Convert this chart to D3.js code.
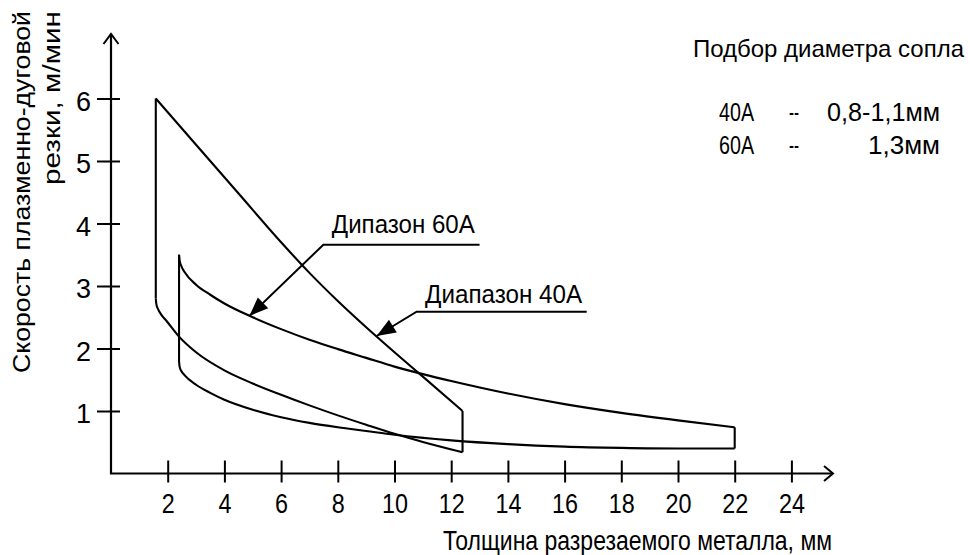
<!DOCTYPE html>
<html>
<head>
<meta charset="utf-8">
<script src="https://cdn.jsdelivr.net/npm/d3@7"></script>
<style>
  body { margin: 0; background: #fff; }
  text { font-family: "Liberation Sans", Arial, sans-serif; fill: #000; }
</style>
</head>
<body>
<div class="chart"></div>
<script>
// axis ticks
const xTicks = [2, 4, 6, 8, 10, 12, 14, 16, 18, 20, 22, 24];
const yTicks = [1, 2, 3, 4, 5, 6];

// range 60A: upper boundary and lower boundary (thickness mm, speed m/min)
const upper60X = [1.58, 3.0, 4.5, 6.0, 7.0, 8.0, 9.0, 10.0, 11.0, 12.4];
const upper60Y = [6.0, 5.26, 4.48, 3.7, 3.21, 2.76, 2.34, 1.94, 1.55, 1.0];
const lower60X = [1.58, 1.6, 1.66, 1.76, 1.96, 2.4, 3.0, 4.0, 5.0, 6.0, 7.0, 8.0, 9.0, 10.0, 11.0, 12.4];
const lower60Y = [2.8, 2.71, 2.63, 2.55, 2.44, 2.19, 1.94, 1.65, 1.44, 1.26, 1.09, 0.93, 0.78, 0.635, 0.505, 0.34];

// range 40A
const upper40X = [2.4, 2.42, 2.48, 2.6, 3.0, 3.5, 4.0, 5.0, 6.0, 7.0, 8.0, 9.0, 10.0, 11.0, 12.0, 14.0, 16.0, 18.0, 20.0, 22.0];
const upper40Y = [3.5, 3.41, 3.32, 3.22, 3.02, 2.86, 2.72, 2.5, 2.31, 2.14, 1.99, 1.85, 1.71, 1.59, 1.48, 1.28, 1.11, 0.97, 0.85, 0.74];
const lower40X = [2.4, 2.42, 2.48, 2.6, 3.0, 3.5, 4.0, 5.0, 6.0, 7.0, 8.0, 9.0, 10.0, 12.0, 14.0, 16.0, 18.0, 20.0, 22.0];
const lower40Y = [1.8, 1.71, 1.64, 1.57, 1.42, 1.29, 1.18, 1.02, 0.9, 0.81, 0.74, 0.68, 0.62, 0.53, 0.47, 0.43, 0.41, 0.4, 0.4];

// callouts: text, arrow tip, elbow, end of shelf
const calloutText = ["Дипазон 60А", "Диапазон 40А"];
const calloutTip = [[4.88, 2.52], [9.37, 2.2]];
const calloutElbow = [[7.49, 3.66], [10.78, 2.59]];
const calloutEndX = [13.0, 16.78];

// nozzle table
const tableTitle = "Подбор диаметра сопла";
const nozzleCurrent = ["40А", "60А"];
const nozzleDiameter = ["0,8-1,1мм", "1,3мм"];

const xTitle = "Толщина разрезаемого металла, мм";
const yTitle = ["Скорость плазменно-дуговой", "резки, м/мин"];

const width = 970, height = 555;

let svg = d3.select(".chart")
    .append("svg")
    .attr("width", width)
    .attr("height", height);

// scales
let x = d3.scaleLinear().domain([0, 24]).range([111, 791.4]);
let y = d3.scaleLinear().domain([0, 6]).range([473.5, 98.5]);

// x axis
let gx = svg.append("g")
    .attr("transform", "translate(0," + y(0) + ")")
    .call(d3.axisBottom(x).tickValues(xTicks).tickFormat(d3.format("d")).tickSize(0).tickPadding(0));
gx.select(".domain").remove();
gx.selectAll(".tick line").attr("y1", -13).attr("y2", 9)
    .attr("stroke", "#000").attr("stroke-width", 2);
gx.selectAll(".tick text")
    .attr("y", 39).attr("dy", null)
    .attr("font-size", 27)
    .attr("font-family", "Liberation Sans, Arial, sans-serif")
    .attr("textLength", d => String(d).length * 13)
    .attr("lengthAdjust", "spacingAndGlyphs");

// y axis
let gy = svg.append("g")
    .attr("transform", "translate(" + x(0) + ",0)")
    .call(d3.axisLeft(y).tickValues(yTicks).tickFormat(d3.format("d")).tickSize(0).tickPadding(0));
gy.select(".domain").remove();
gy.selectAll(".tick line").attr("x1", -14).attr("x2", 9)
    .attr("stroke", "#000").attr("stroke-width", 2);
gy.selectAll(".tick text")
    .attr("x", -20).attr("y", 2).attr("dy", "0.36em")
    .attr("font-size", 27)
    .attr("font-family", "Liberation Sans, Arial, sans-serif");

// axis lines with open arrow heads
let axisTop = y(0) - 439.5, axisRight = x(0) + 722;
svg.append("path")
    .attr("d", d3.line()([[x(0), axisTop], [x(0), y(0)], [axisRight, y(0)]]))
    .attr("fill", "none").attr("stroke", "#000").attr("stroke-width", 2.2);
svg.append("path")
    .attr("d", d3.line()([[x(0) - 7.5, axisTop + 10], [x(0), axisTop], [x(0) + 7.5, axisTop + 10]]))
    .attr("fill", "none").attr("stroke", "#000").attr("stroke-width", 2);
svg.append("path")
    .attr("d", d3.line()([[axisRight - 9, y(0) - 7.5], [axisRight, y(0)], [axisRight - 9, y(0) + 7.5]]))
    .attr("fill", "none").attr("stroke", "#000").attr("stroke-width", 2);

// curves
const zip = (xs, ys) => xs.map((v, i) => [v, ys[i]]);
let curve = d3.line()
    .x(d => x(d[0]))
    .y(d => y(d[1]))
    .curve(d3.curveMonotoneX);
let straight = d3.line().x(d => x(d[0])).y(d => y(d[1]));

function drawRange(ux, uy, lx, ly) {
    let up = zip(ux, uy), low = zip(lx, ly);
    let paths = [
        curve(up),
        straight([up[0], low[0]]),
        curve(low),
        straight([up[up.length - 1], low[low.length - 1]])
    ];
    paths.forEach(p => svg.append("path").attr("d", p)
        .attr("fill", "none").attr("stroke", "#000")
        .attr("stroke-width", 2.1).attr("stroke-linejoin", "round"));
}
drawRange(upper60X, upper60Y, lower60X, lower60Y);
drawRange(upper40X, upper40Y, lower40X, lower40Y);

// callouts
const calloutTextLen = [143, 157];
const calloutDy = [-12, -9];
calloutText.forEach((t, i) => {
    let tip = calloutTip[i], elbow = calloutElbow[i];
    svg.append("path")
        .attr("d", straight([tip, elbow, [calloutEndX[i], elbow[1]]]))
        .attr("fill", "none").attr("stroke", "#000").attr("stroke-width", 2);
    // filled arrow head
    let tx = x(tip[0]), ty = y(tip[1]);
    let ang = Math.atan2(y(elbow[1]) - ty, x(elbow[0]) - tx);
    let len = 19, hw = 7.5;
    let bx = tx + len * Math.cos(ang), by = ty + len * Math.sin(ang);
    svg.append("path")
        .attr("d", d3.line()([[tx, ty],
            [bx - hw * Math.sin(ang), by + hw * Math.cos(ang)],
            [bx + hw * Math.sin(ang), by - hw * Math.cos(ang)]]) + "Z")
        .attr("fill", "#000");
    svg.append("text")
        .attr("x", x(elbow[0]) + 8.5)
        .attr("y", y(elbow[1]) + calloutDy[i])
        .attr("font-size", 26)
        .attr("textLength", calloutTextLen[i])
        .attr("lengthAdjust", "spacingAndGlyphs")
        .text(t);
});

// nozzle table
svg.append("text")
    .attr("x", 693).attr("y", 57)
    .attr("font-size", 24)
    .attr("textLength", 271).attr("lengthAdjust", "spacingAndGlyphs")
    .text(tableTitle);
const diamLen = [113, 72];
nozzleCurrent.forEach((c, i) => {
    let by = 121 + i * 33;
    svg.append("text").attr("x", 719).attr("y", by).attr("font-size", 25)
        .attr("textLength", 35).attr("lengthAdjust", "spacingAndGlyphs").text(c);
    svg.append("text").attr("x", 789).attr("y", by).attr("font-size", 26)
        .attr("textLength", 10).attr("lengthAdjust", "spacingAndGlyphs").text("--");
    svg.append("text").attr("x", 940).attr("y", by).attr("font-size", 26)
        .attr("text-anchor", "end")
        .attr("textLength", diamLen[i]).attr("lengthAdjust", "spacingAndGlyphs")
        .text(nozzleDiameter[i]);
});

// axis titles
svg.append("text")
    .attr("x", 443).attr("y", 550)
    .attr("font-size", 27)
    .attr("textLength", 389).attr("lengthAdjust", "spacingAndGlyphs")
    .text(xTitle);

const yTitleLen = [362, 174];
yTitle.forEach((t, i) => {
    svg.append("text")
        .attr("transform", "translate(" + (29.5 + i * 30.5) + ",11) rotate(-90)")
        .attr("text-anchor", "end")
        .attr("font-size", 23)
        .attr("textLength", yTitleLen[i]).attr("lengthAdjust", "spacingAndGlyphs")
        .text(t);
});
</script>
</body>
</html>
